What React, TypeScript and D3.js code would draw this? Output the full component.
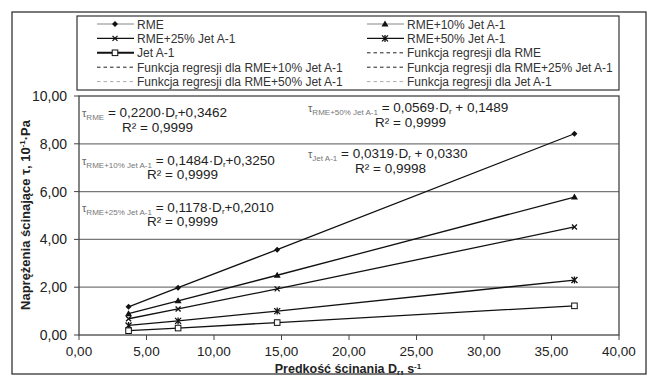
import React from 'react';
import * as d3 from 'd3';

// shear rate D_r, s^-1
const shearRates = [3.67, 7.34, 14.68, 36.7];

const seriesNames = ['RME', 'RME+10% Jet A-1', 'RME+25% Jet A-1', 'RME+50% Jet A-1', 'Jet A-1'];
const rmeValues = [1.18, 1.98, 3.57, 8.42];
const rme10Values = [0.89, 1.43, 2.5, 5.77];
const rme25Values = [0.68, 1.09, 1.93, 4.52];
const rme50Values = [0.4, 0.59, 1.0, 2.3];
const jetValues = [0.18, 0.29, 0.52, 1.22];

const xTicks = [0, 5, 10, 15, 20, 25, 30, 35, 40];
const yTicks = [0, 2, 4, 6, 8, 10];

const eqSubscripts = ['RME', 'RME+10% Jet A-1', 'RME+25% Jet A-1', 'RME+50% Jet A-1', 'Jet A-1'];
const eqSlopes = ['0,2200', '0,1484', '0,1178', '0,0569', '0,0319'];
const eqIntercepts = ['+0,3462', '+0,3250', '+0,2010', ' + 0,1489', ' + 0,0330'];
const eqR2 = ['0,9999', '0,9999', '0,9999', '0,9999', '0,9998'];

const regressionLabels = seriesNames.map(n => 'Funkcja regresji dla ' + n);

const W = 654;
const H = 376;
const plot = { left: 79, right: 619, top: 96, bottom: 335 };

const fontFamily = '"Liberation Sans", Arial, sans-serif';

function Marker({ type, x, y }: { type: string; x: number; y: number }) {
  if (type === 'diamond') {
    return <path d={`M${x},${y - 3}L${x + 3},${y}L${x},${y + 3}L${x - 3},${y}Z`} fill="#111" />;
  }
  if (type === 'triangle') {
    return <path d={`M${x},${y - 3.5}L${x + 3.5},${y + 2.5}L${x - 3.5},${y + 2.5}Z`} fill="#111" />;
  }
  if (type === 'cross') {
    return (
      <path d={`M${x - 2.5},${y - 2.5}L${x + 2.5},${y + 2.5}M${x + 2.5},${y - 2.5}L${x - 2.5},${y + 2.5}`} stroke="#111" strokeWidth={1.3} />
    );
  }
  if (type === 'star') {
    return (
      <path
        d={`M${x - 3},${y - 3}L${x + 3},${y + 3}M${x + 3},${y - 3}L${x - 3},${y + 3}M${x},${y - 3.5}L${x},${y + 3.5}`}
        stroke="#111"
        strokeWidth={1.3}
      />
    );
  }
  return <rect x={x - 2.8} y={y - 2.8} width={5.6} height={5.6} fill="#fff" stroke="#111" strokeWidth={1} />;
}

export default function App() {
  const x = d3.scaleLinear().domain([0, 40]).range([plot.left, plot.right]);
  const y = d3.scaleLinear().domain([0, 10]).range([plot.bottom, plot.top]);

  const series = [
    { name: seriesNames[0], values: rmeValues, marker: 'diamond' },
    { name: seriesNames[1], values: rme10Values, marker: 'triangle' },
    { name: seriesNames[2], values: rme25Values, marker: 'cross' },
    { name: seriesNames[3], values: rme50Values, marker: 'star' },
    { name: seriesNames[4], values: jetValues, marker: 'square' },
  ];

  const line = d3
    .line<number>()
    .x((_, i) => x(shearRates[i]))
    .y(d => y(d));

  // legend entries (row major, 2 columns)
  const legendItems = [
    { label: seriesNames[0], kind: 'series', marker: 'diamond', color: '#888', width: 1.2 },
    { label: seriesNames[1], kind: 'series', marker: 'triangle', color: '#888', width: 1.2 },
    { label: seriesNames[2], kind: 'series', marker: 'cross', color: '#111', width: 1.3 },
    { label: seriesNames[3], kind: 'series', marker: 'star', color: '#111', width: 1.3 },
    { label: seriesNames[4], kind: 'series', marker: 'square', color: '#111', width: 2 },
    { label: regressionLabels[0], kind: 'reg', color: '#222', width: 1 },
    { label: regressionLabels[1], kind: 'reg', color: '#222', width: 1 },
    { label: regressionLabels[2], kind: 'reg', color: '#222', width: 1 },
    { label: regressionLabels[3], kind: 'reg', color: '#aaa', width: 1 },
    { label: regressionLabels[4], kind: 'reg', color: '#aaa', width: 1 },
  ];
  const legendCols = [97, 367];
  const legendRow0 = 24;
  const legendRowH = 14.4;

  const eqPos = [
    { x: 82, y: 117, rx: 122, ry: 132 },
    { x: 82, y: 165, rx: 147, ry: 179 },
    { x: 82, y: 212, rx: 147, ry: 226 },
    { x: 308, y: 112, rx: 375, ry: 127 },
    { x: 308, y: 158, rx: 355, ry: 173 },
  ];

  return (
    <svg
      width={W}
      height={H}
      style={{ position: 'absolute', left: 0, top: 0, background: '#fff' }}
      fontFamily={fontFamily}
    >
      <rect x={0} y={0} width={W} height={H} fill="#fff" />
      {/* outer frame */}
      <rect x={12} y={12} width={634} height={362} fill="none" stroke="#222" strokeWidth={1.2} />

      {/* legend */}
      <rect x={77} y={16} width={542} height={74} fill="#fff" stroke="#333" strokeWidth={1.2} />
      {legendItems.map((it, i) => {
        const col = i % 2;
        const row = Math.floor(i / 2);
        const lx = legendCols[col];
        const ly = legendRow0 + row * legendRowH;
        return (
          <g key={it.label}>
            <line
              x1={lx}
              x2={lx + 37}
              y1={ly}
              y2={ly}
              stroke={it.color}
              strokeWidth={it.width}
              strokeDasharray={it.kind === 'reg' ? '3.5,3' : undefined}
            />
            {it.kind === 'series' && <Marker type={it.marker as string} x={lx + 18} y={ly} />}
            <text x={lx + 40} y={ly + 4.5} fontSize={12} fill="#333">
              {it.label}
            </text>
          </g>
        );
      })}

      {/* gridlines */}
      {yTicks
        .filter(t => t > 0 && t < 10)
        .map(t => (
          <line key={t} x1={plot.left} x2={plot.right} y1={y(t)} y2={y(t)} stroke="#777" strokeWidth={1.2} />
        ))}

      {/* plot frame */}
      <rect
        x={plot.left}
        y={plot.top}
        width={plot.right - plot.left}
        height={plot.bottom - plot.top}
        fill="none"
        stroke="#444"
        strokeWidth={1.3}
      />

      {/* y axis ticks */}
      {yTicks.map(t => (
        <g key={t}>
          <line x1={plot.left - 5} x2={plot.left} y1={y(t)} y2={y(t)} stroke="#444" />
          <text x={67} y={y(t) + 5} textAnchor="end" fontSize={14} fill="#222">
            {t.toFixed(2).replace('.', ',')}
          </text>
        </g>
      ))}

      {/* x axis ticks */}
      {xTicks.map(t => (
        <g key={t}>
          <line x1={x(t)} x2={x(t)} y1={plot.bottom} y2={plot.bottom + 5} stroke="#444" />
          <text x={x(t)} y={356} textAnchor="middle" fontSize={13.5} fill="#222">
            {t.toFixed(2).replace('.', ',')}
          </text>
        </g>
      ))}

      {/* series */}
      {series.map(s => (
        <g key={s.name}>
          <path d={line(s.values) || ''} fill="none" stroke="#111" strokeWidth={1.3} />
          {s.values.map((v, i) => (
            <Marker key={i} type={s.marker} x={x(shearRates[i])} y={y(v)} />
          ))}
        </g>
      ))}

      {/* regression equations */}
      {eqPos.map((p, i) => (
        <g key={i}>
          <text x={p.x} y={p.y} fontSize={13.5} fill="#222">
            <tspan fontSize={11} fill="#666">τ</tspan>
            <tspan fontSize={8} fill="#777" dy={2.5}>
              {eqSubscripts[i]}
            </tspan>
            <tspan dy={-2.5}>{' = ' + eqSlopes[i] + '·D'}</tspan>
            <tspan fontSize={8} dy={2}>
              r
            </tspan>
            <tspan dy={-2}>{eqIntercepts[i]}</tspan>
          </text>
          <text x={p.rx} y={p.ry} fontSize={13.5} fill="#222">
            {'R² = ' + eqR2[i]}
          </text>
        </g>
      ))}

      {/* axis titles */}
      <text x={348} y={373} textAnchor="middle" fontSize={12.5} fontWeight="bold" fill="#222">
        <tspan>Predkość ścinania D</tspan>
        <tspan fontSize={8} dy={2}>
          r
        </tspan>
        <tspan dy={-2}>, s</tspan>
        <tspan fontSize={8} dy={-4}>
          -1
        </tspan>
      </text>
      <text
        transform="translate(30,215) rotate(-90)"
        textAnchor="middle"
        fontSize={13}
        fontWeight="bold"
        fill="#222"
      >
        <tspan>Naprężenia ścinające τ, 10</tspan>
        <tspan fontSize={8} dy={-5}>
          -1
        </tspan>
        <tspan dy={5}>·Pa</tspan>
      </text>
    </svg>
  );
}
